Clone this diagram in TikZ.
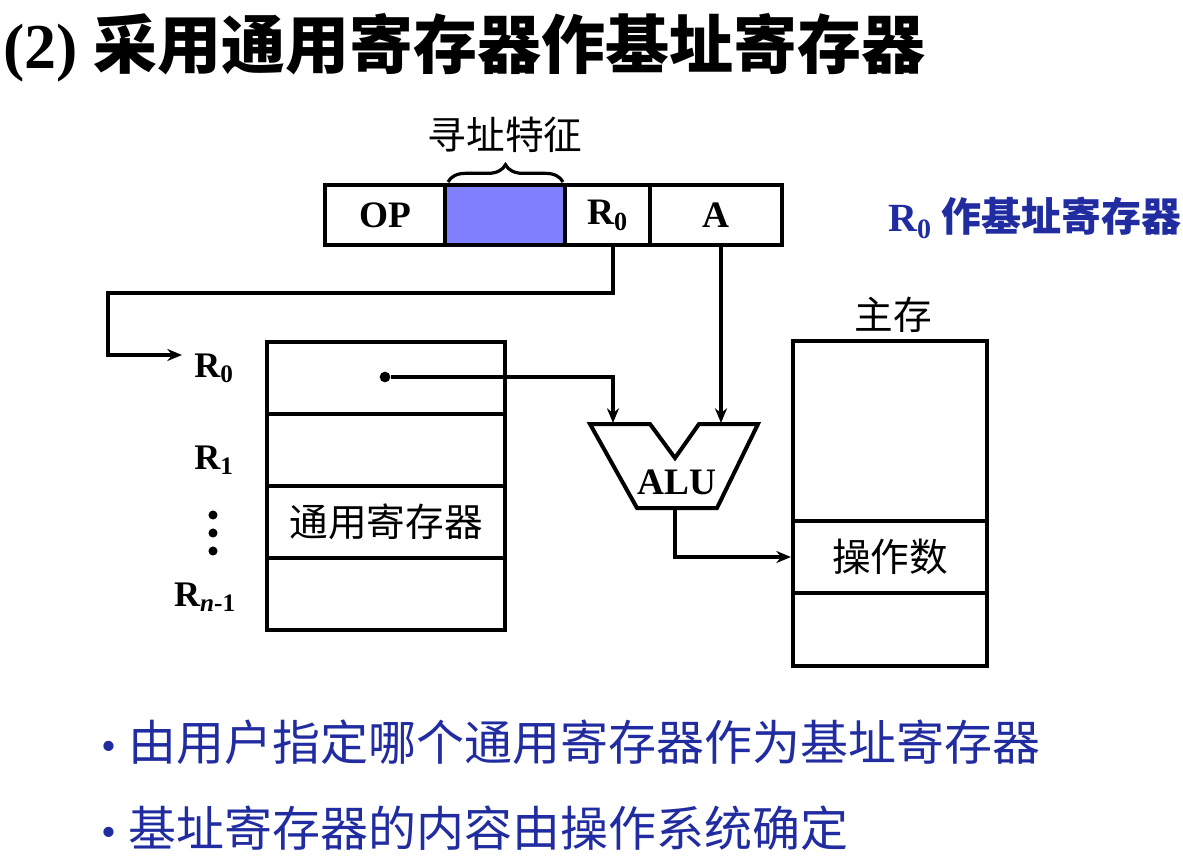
\documentclass[tikz,border=0pt]{standalone}
\usepackage{fontspec}
\setmainfont{Liberation Serif}
\newfontfamily\cjk{Noto Sans CJK SC}
\usepackage{xcolor}
\usetikzlibrary{arrows.meta,decorations.pathreplacing}
\definecolor{fieldblue}{RGB}{128,128,255}
\definecolor{noteblue}{RGB}{32,44,160}
\tikzset{
  box/.style={draw, line width=3pt, inner sep=0pt, font=\fontsize{29}{31}\selectfont},
  cell/.style={box, minimum height=45pt, font=\fontsize{28}{30}\selectfont\bfseries},
  reglab/.style={inner sep=0pt, font=\fontsize{27}{29}\selectfont\bfseries},
  wire/.style={line width=2.6pt},
  arr/.style={wire, -{Stealth[length=11pt,width=9pt]}},
}

\begin{document}
\begin{tikzpicture}[x=0.75pt,y=0.75pt,yscale=-1,xscale=1]
	\useasboundingbox (0,0) rectangle (1183,858);
	% title
	\draw (3,48) node [anchor=west][inner sep=0pt][font=\fontsize{48}{52}\selectfont\bfseries] (title) {(2) {\cjk 采用通用寄存器作基址寄存器}};
	% instruction format
	\draw (385,215) node [cell, minimum width=90pt] (opcell) {OP};
	\draw (505,215) node [cell, fill=fieldblue, minimum width=90pt] (modecell) {};
	\draw (607.5,215) node [cell, minimum width=63.75pt] (r0cell) {R\textsubscript{0}};
	\draw (716,215) node [cell, minimum width=99pt] (acell) {A};
	\draw [line width=2.4pt, decorate, decoration={brace, amplitude=13pt}] (448,182) -- (563,182);
	\draw (505,135) node [font=\fontsize{29}{31}\selectfont] (modelab) {\cjk 寻址特征};
	\draw (1182,218) node [anchor=east][inner sep=0pt][text=noteblue][font=\fontsize{30}{32}\selectfont\bfseries] (note) {R\textsubscript{0} {\cjk 作基址寄存器}};
	% general registers
	\draw (386,378) node [box, minimum width=178.5pt, minimum height=54pt] (r0row) {};
	\draw (386,450) node [box, minimum width=178.5pt, minimum height=54pt] (r1row) {};
	\draw (386,522) node [box, minimum width=178.5pt, minimum height=54pt] (rirow) {\cjk 通用寄存器};
	\draw (386,594) node [box, minimum width=178.5pt, minimum height=54pt] (rnrow) {};
	\draw (214,368) node [reglab] (r0lab) {R\textsubscript{0}};
	\draw (214,460) node [reglab] (r1lab) {R\textsubscript{1}};
	\draw (205,597) node [reglab] (rnlab) {R\textsubscript{\textit{n}-1}};
	\fill (213,515) circle (3.4pt) (213,533) circle (3.4pt) (213,551) circle (3.4pt);
	\draw (385,377) node [circle, fill, inner sep=0pt, minimum size=8pt] (r0dot) {};
	% ALU
	\draw [line width=3pt, line join=miter] (590,424) -- (650,424) -- (675,458) -- (699,424) -- (758,424) -- (717,508) -- (637,508) -- cycle;
	\draw (677,482) node [font=\fontsize{28}{30}\selectfont\bfseries] (alu) {ALU};
	\coordinate (aluinL) at (613,423);
	\coordinate (aluinR) at (721,423);
	\coordinate (aluout) at (675,509);
	% main memory
	\draw (890,431) node [box, minimum width=145.5pt, minimum height=135pt] (memtop) {};
	\draw (890,557) node [box, minimum width=145.5pt, minimum height=54pt] (opnd) {\cjk 操作数};
	\draw (890,629.5) node [box, minimum width=145.5pt, minimum height=54.75pt] (membot) {};
	\draw (893,315) node [font=\fontsize{29}{31}\selectfont] (memlab) {\cjk 主存};
	% connectors
	\coordinate (bend) at (108,293);
	\coordinate (r0ptr) at (182,355);
	\draw [arr] (r0cell.south -| aluinL) |- (bend) |- (r0ptr);
	\draw [arr] (r0dot) -| (aluinL);
	\draw [arr] (acell.south -| aluinR) -- (aluinR);
	\draw [arr] (aluout) |- (opnd.west);
	% notes
	\draw (101,742) node [anchor=west][inner sep=0pt][text=noteblue][font=\fontsize{36}{40}\selectfont] (note1) {{\fontsize{32}{34}\selectfont\textbullet}\ {\cjk 由用户指定哪个通用寄存器作为基址寄存器}};
	\draw (101,828) node [anchor=west][inner sep=0pt][text=noteblue][font=\fontsize{36}{40}\selectfont] (note2) {{\fontsize{32}{34}\selectfont\textbullet}\ {\cjk 基址寄存器的内容由操作系统确定}};
\end{tikzpicture}
\end{document}
